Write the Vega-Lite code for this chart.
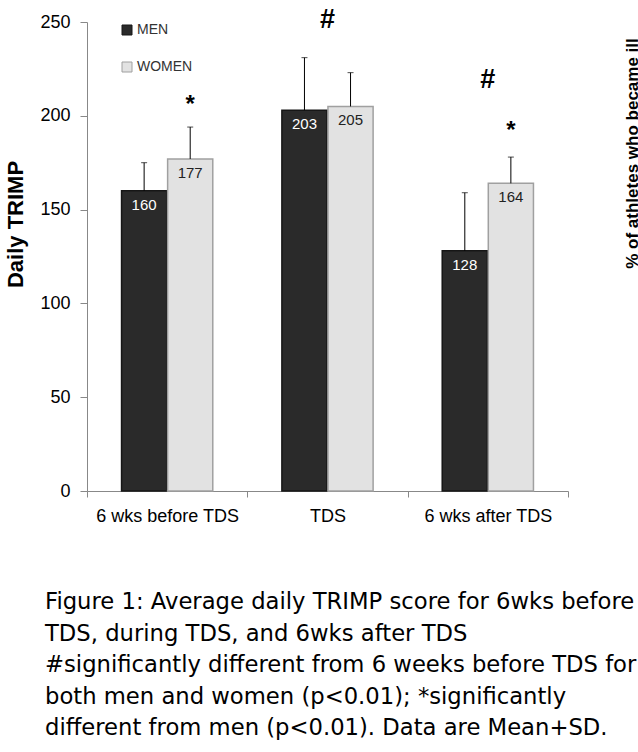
{
  "$schema": "https://vega.github.io/schema/vega-lite/v6.json",
  "width": 481,
  "height": 469,
  "autosize": {"type": "none"},
  "padding": {"left": 87, "top": 22, "right": 70, "bottom": 261},
  "background": "white",
  "config": {
    "view": {"stroke": null},
    "font": "Liberation Sans",
    "legend": {
      "orient": "none",
      "legendX": 33,
      "legendY": 1,
      "padding": 0,
      "symbolType": "square",
      "symbolSize": 100,
      "symbolStrokeWidth": 1,
      "labelFontSize": 14,
      "labelColor": "#333333",
      "labelOffset": 3,
      "rowPadding": 23
    }
  },
  "title": {
    "text": [
      "Figure 1: Average daily TRIMP score for 6wks before",
      "TDS, during TDS, and 6wks after TDS",
      "#significantly different from 6 weeks before TDS for",
      "both men and women (p<0.01); *significantly",
      "different from men (p<0.01).  Data are Mean+SD."
    ],
    "orient": "bottom",
    "anchor": "start",
    "frame": "group",
    "font": "DejaVu Sans",
    "fontSize": 22.7,
    "fontWeight": "normal",
    "lineHeight": 31.5,
    "color": "#000000",
    "offset": 66,
    "dx": -42
  },
  "datasets": {
    "trimp": [
      {"period": "6 wks before TDS", "sex": "MEN", "mean": 160, "upper": 175},
      {"period": "6 wks before TDS", "sex": "WOMEN", "mean": 177, "upper": 194},
      {"period": "TDS", "sex": "MEN", "mean": 203, "upper": 231},
      {"period": "TDS", "sex": "WOMEN", "mean": 205, "upper": 223},
      {"period": "6 wks after TDS", "sex": "MEN", "mean": 128, "upper": 159},
      {"period": "6 wks after TDS", "sex": "WOMEN", "mean": 164, "upper": 178}
    ],
    "groupFlags": [
      {"period": "TDS", "flag": "#", "at": 251},
      {"period": "6 wks after TDS", "flag": "#", "at": 219}
    ],
    "sexFlags": [
      {"period": "6 wks before TDS", "sex": "WOMEN", "flag": "*", "at": 206},
      {"period": "6 wks after TDS", "sex": "WOMEN", "flag": "*", "at": 192}
    ]
  },
  "resolve": {"axis": {"y": "independent"}},
  "layer": [
    {
      "data": {"name": "trimp"},
      "mark": {"type": "bar"},
      "encoding": {
        "x": {
          "field": "period",
          "type": "nominal",
          "sort": ["6 wks before TDS", "TDS", "6 wks after TDS"],
          "scale": {"paddingInner": 0, "paddingOuter": 0},
          "axis": {
            "title": null,
            "labelAngle": 0,
            "tickBand": "extent",
            "domainColor": "#888888",
            "tickColor": "#888888",
            "tickSize": 6,
            "labelFontSize": 18,
            "labelPadding": 10,
            "labelColor": "#000000"
          }
        },
        "xOffset": {
          "field": "sex",
          "type": "nominal",
          "scale": {"paddingInner": 0.02, "paddingOuter": 0.75}
        },
        "y": {
          "field": "mean",
          "type": "quantitative",
          "scale": {"domain": [0, 250], "nice": false},
          "axis": {
            "title": "Daily TRIMP",
            "values": [0, 50, 100, 150, 200, 250],
            "grid": false,
            "domainColor": "#888888",
            "tickColor": "#888888",
            "tickSize": 7,
            "labelFontSize": 18,
            "labelPadding": 10,
            "labelColor": "#000000",
            "titleFontSize": 22,
            "titleFontWeight": "bold",
            "titleColor": "#000000",
            "titleAngle": 270,
            "titleBaseline": "middle",
            "titleAlign": "center",
            "titleX": -72,
            "titleY": 202
          }
        },
        "fill": {
          "field": "sex",
          "type": "nominal",
          "scale": {"domain": ["MEN", "WOMEN"], "range": ["#2a2a2a", "#e2e2e2"]},
          "legend": {"title": null}
        },
        "stroke": {
          "field": "sex",
          "type": "nominal",
          "scale": {"domain": ["MEN", "WOMEN"], "range": ["#161616", "#a0a0a0"]},
          "legend": {"title": null}
        },
        "strokeWidth": {"value": 1.5}
      }
    },
    {
      "data": {"name": "trimp"},
      "mark": {"type": "rule", "color": "#000000", "strokeWidth": 1},
      "encoding": {
        "x": {"field": "period", "type": "nominal", "sort": ["6 wks before TDS", "TDS", "6 wks after TDS"], "title": null},
        "xOffset": {"field": "sex", "type": "nominal"},
        "y": {
          "field": "mean",
          "type": "quantitative",
          "scale": {"domain": [0, 250], "nice": false},
          "axis": {
            "orient": "right",
            "title": "% of athletes who became ill",
            "domain": false,
            "ticks": false,
            "labels": false,
            "grid": false,
            "titleFontSize": 17,
            "titleFontWeight": "bold",
            "titleColor": "#000000",
            "titleAngle": 270,
            "titleBaseline": "middle",
            "titleAlign": "center",
            "titleX": 64,
            "titleY": 131
          }
        },
        "y2": {"field": "upper"}
      }
    },
    {
      "data": {"name": "trimp"},
      "mark": {"type": "tick", "color": "#000000", "thickness": 1, "size": 6, "orient": "horizontal"},
      "encoding": {
        "x": {"field": "period", "type": "nominal", "sort": ["6 wks before TDS", "TDS", "6 wks after TDS"], "title": null},
        "xOffset": {"field": "sex", "type": "nominal"},
        "y": {"field": "upper", "type": "quantitative", "scale": {"domain": [0, 250], "nice": false}, "axis": null}
      }
    },
    {
      "data": {"name": "trimp"},
      "mark": {"type": "text", "font": "Liberation Sans Narrow, Liberation Sans", "fontSize": 15, "baseline": "middle", "dy": 14},
      "encoding": {
        "x": {"field": "period", "type": "nominal", "sort": ["6 wks before TDS", "TDS", "6 wks after TDS"], "title": null},
        "xOffset": {"field": "sex", "type": "nominal"},
        "y": {"field": "mean", "type": "quantitative", "scale": {"domain": [0, 250], "nice": false}, "axis": null},
        "text": {"field": "mean", "type": "quantitative"},
        "color": {"condition": {"test": "datum.sex === 'MEN'", "value": "#ffffff"}, "value": "#222222"}
      }
    },
    {
      "data": {"name": "groupFlags"},
      "mark": {"type": "text", "fontSize": 27, "fontWeight": "bold", "baseline": "middle", "color": "#000000"},
      "encoding": {
        "x": {"field": "period", "type": "nominal", "sort": ["6 wks before TDS", "TDS", "6 wks after TDS"], "title": null},
        "y": {"field": "at", "type": "quantitative", "scale": {"domain": [0, 250], "nice": false}, "axis": null},
        "text": {"field": "flag"}
      }
    },
    {
      "data": {"name": "sexFlags"},
      "mark": {"type": "text", "fontSize": 24, "fontWeight": "bold", "baseline": "middle", "color": "#000000"},
      "encoding": {
        "x": {"field": "period", "type": "nominal", "sort": ["6 wks before TDS", "TDS", "6 wks after TDS"], "title": null},
        "xOffset": {"field": "sex", "type": "nominal", "scale": {"domain": ["MEN", "WOMEN"]}},
        "y": {"field": "at", "type": "quantitative", "scale": {"domain": [0, 250], "nice": false}, "axis": null},
        "text": {"field": "flag"}
      }
    }
  ]
}
